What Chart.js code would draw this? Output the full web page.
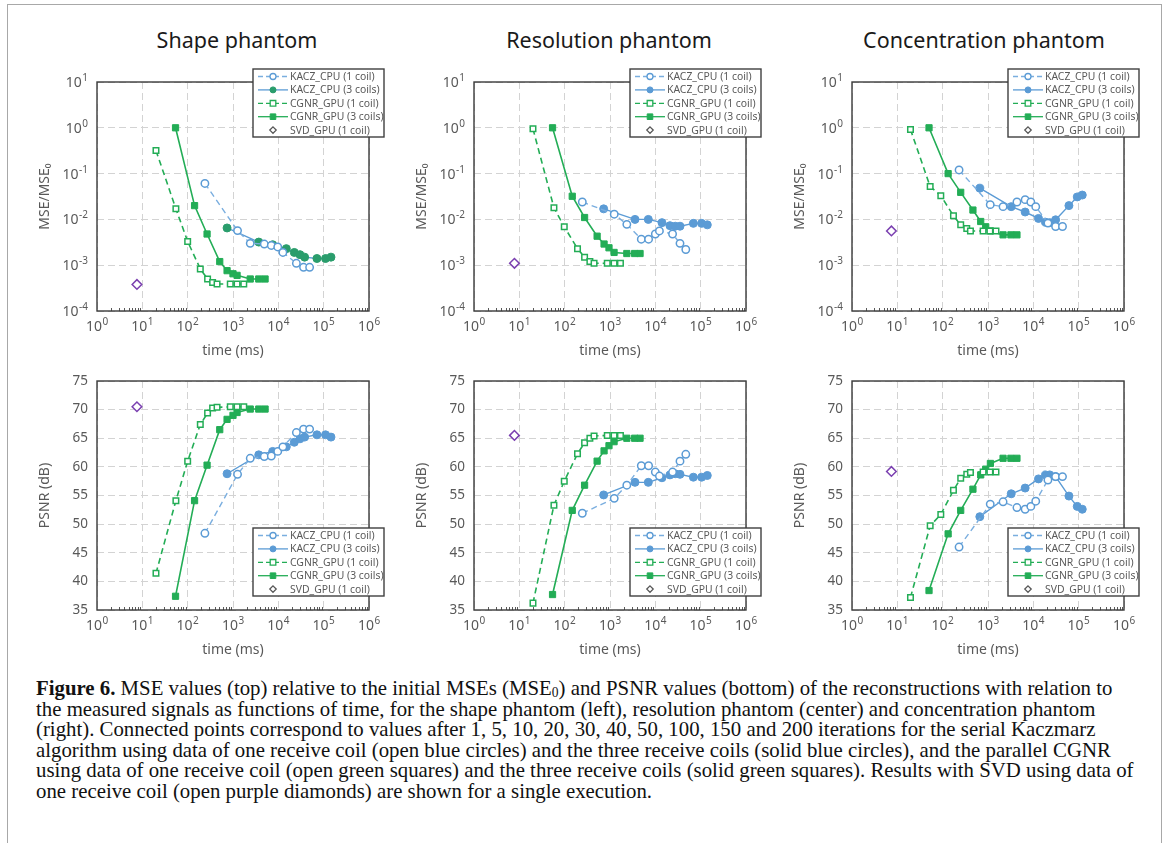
<!DOCTYPE html>
<html><head><meta charset="utf-8">
<script src="https://cdn.jsdelivr.net/npm/chart.js@4.4.0/dist/chart.umd.min.js"></script>
<style>
html,body{margin:0;padding:0;background:#fff;}
body{width:1167px;height:843px;position:relative;overflow:hidden;font-family:"Noto Sans",sans-serif;}
#frame{position:absolute;left:7px;top:4px;width:1155px;height:900px;border:1px solid #a8a8a8;box-sizing:border-box;}
canvas{position:absolute;}
.ptitle{position:absolute;top:24px;width:320px;text-align:center;font-size:21.5px;color:#1a1a1a;line-height:32px;white-space:nowrap;}
#caption{position:absolute;left:36px;top:678px;font-family:"Liberation Serif",serif;font-size:18px;line-height:20.6px;color:#111;white-space:nowrap;}
#caption div{white-space:nowrap;}
#caption sub{font-size:65%;vertical-align:-2px;line-height:0;}
</style></head>
<body>
<div id="frame"></div>
<div class="ptitle" id="t0" style="left:77px"></div>
<div class="ptitle" id="t1" style="left:449px"></div>
<div class="ptitle" id="t2" style="left:824px"></div>
<canvas id="c0" width="354" height="301" style="left:35px;top:62px"></canvas>
<canvas id="c1" width="354" height="301" style="left:412px;top:62px"></canvas>
<canvas id="c2" width="354" height="301" style="left:790px;top:62px"></canvas>
<canvas id="c3" width="354" height="301" style="left:35px;top:361px"></canvas>
<canvas id="c4" width="354" height="301" style="left:412px;top:361px"></canvas>
<canvas id="c5" width="354" height="301" style="left:790px;top:361px"></canvas>
<div id="caption">
<div id="cl1"><b>Figure 6.</b> MSE values (top) relative to the initial MSEs (MSE<sub>0</sub>) and PSNR values (bottom) of the reconstructions with relation to</div>
<div>the measured signals as functions of time, for the shape phantom (left), resolution phantom (center) and concentration phantom</div>
<div>(right). Connected points correspond to values after 1, 5, 10, 20, 30, 40, 50, 100, 150 and 200 iterations for the serial Kaczmarz</div>
<div>algorithm using data of one receive coil (open blue circles) and the three receive coils (solid blue circles), and the parallel CGNR</div>
<div>using data of one receive coil (open green squares) and the three receive coils (solid green squares). Results with SVD using data of</div>
<div>one receive coil (open purple diamonds) are shown for a single execution.</div>
</div>
<script>
// ---------------- DATA ----------------
const ITERATIONS = [1, 5, 10, 20, 30, 40, 50, 100, 150, 200];
const PHANTOMS = ['Shape phantom', 'Resolution phantom', 'Concentration phantom'];
const SERIES_LABELS = ['KACZ_CPU (1 coil)', 'KACZ_CPU (3 coils)', 'CGNR_GPU (1 coil)', 'CGNR_GPU (3 coils)', 'SVD_GPU (1 coil)'];
const X_TICKS = [1, 10, 100, 1000, 10000, 100000, 1000000];
const MSE_TICKS = [1e-4, 1e-3, 1e-2, 1e-1, 1, 10];
const PSNR_TICKS = [35, 40, 45, 50, 55, 60, 65, 70, 75];

// Shape phantom
const shapeTimeKacz1 = [240, 1260, 2400, 4900, 7000, 9700, 12600, 25000, 36000, 49000];
const shapeMseKacz1 = [0.061, 0.0057, 0.0030, 0.0029, 0.0027, 0.0025, 0.0019, 0.0011, 0.0009, 0.0009];
const shapePsnrKacz1 = [48.4, 58.7, 61.5, 61.8, 61.9, 62.7, 63.5, 66.0, 66.6, 66.6];
const shapeTimeKacz3 = [740, 3700, 7500, 15000, 22500, 30000, 38000, 71000, 110000, 145000];
const shapeMseKacz3 = [0.0065, 0.0032, 0.0028, 0.0023, 0.0019, 0.0017, 0.0015, 0.0014, 0.0014, 0.0015];
const shapePsnrKacz3 = [58.8, 62.1, 62.7, 63.5, 64.3, 64.9, 65.2, 65.6, 65.6, 65.2];
const shapeTimeCgnr1 = [20, 55, 100, 190, 275, 355, 445, 870, 1230, 1730];
const shapeMseCgnr1 = [0.32, 0.017, 0.0033, 0.00083, 0.0005, 0.00042, 0.00039, 0.00039, 0.00039, 0.00039];
const shapePsnrCgnr1 = [41.4, 54.1, 61.0, 67.4, 69.4, 70.3, 70.4, 70.5, 70.5, 70.5];
const shapeTimeCgnr3 = [54, 142, 268, 510, 740, 1000, 1230, 2400, 3700, 5100];
const shapeMseCgnr3 = [1.0, 0.02, 0.0048, 0.0012, 0.00076, 0.00065, 0.0006, 0.0005, 0.0005, 0.0005];
const shapePsnrCgnr3 = [37.4, 54.1, 60.3, 66.5, 68.3, 69.0, 69.5, 70.1, 70.1, 70.1];
const shapeTimeSvd = [7.6];
const shapeMseSvd = [0.00038];
const shapePsnrSvd = [70.5];

// Resolution phantom
const resTimeKacz1 = [245, 1240, 2350, 4900, 7100, 10000, 12300, 24000, 35000, 47000];
const resMseKacz1 = [0.024, 0.013, 0.0078, 0.0037, 0.0037, 0.0048, 0.0056, 0.0048, 0.0030, 0.0022];
const resPsnrKacz1 = [51.9, 54.5, 56.8, 60.2, 60.2, 59.1, 58.4, 59.1, 61.0, 62.2];
const resTimeKacz3 = [725, 3560, 7000, 14000, 21000, 27500, 35000, 69000, 105000, 140000];
const resMseKacz3 = [0.017, 0.010, 0.010, 0.0085, 0.0073, 0.0071, 0.0071, 0.0082, 0.0082, 0.0076];
const resPsnrKacz3 = [55.1, 57.3, 57.3, 58.1, 58.6, 58.8, 58.7, 58.2, 58.2, 58.5];
const resTimeCgnr1 = [20, 58, 98, 192, 275, 360, 445, 870, 1230, 1700];
const resMseCgnr1 = [0.95, 0.018, 0.0069, 0.0023, 0.0015, 0.0012, 0.0011, 0.0011, 0.0011, 0.0011];
const resPsnrCgnr1 = [36.2, 53.3, 57.5, 62.3, 64.2, 65.0, 65.4, 65.5, 65.5, 65.5];
const resTimeCgnr3 = [54, 147, 275, 520, 740, 950, 1230, 2350, 3500, 4600];
const resMseCgnr3 = [1.0, 0.032, 0.011, 0.0043, 0.0029, 0.0024, 0.0019, 0.0018, 0.0018, 0.0018];
const resPsnrCgnr3 = [37.7, 52.4, 56.8, 61.0, 62.8, 63.7, 64.4, 65.0, 65.0, 65.0];
const resTimeSvd = [7.8];
const resMseSvd = [0.0011];
const resPsnrSvd = [65.5];

// Concentration phantom
const concTimeKacz1 = [230, 1120, 2150, 4350, 6600, 8800, 11300, 21000, 31000, 44000];
const concMseKacz1 = [0.12, 0.021, 0.019, 0.024, 0.027, 0.024, 0.019, 0.0083, 0.0070, 0.0070];
const concPsnrKacz1 = [46.0, 53.5, 53.9, 52.9, 52.6, 53.1, 54.0, 57.7, 58.3, 58.3];
const concTimeKacz3 = [660, 3250, 6600, 13000, 18600, 23000, 31000, 61000, 93000, 120000];
const concMseKacz3 = [0.048, 0.019, 0.0145, 0.0105, 0.0087, 0.0085, 0.0098, 0.020, 0.031, 0.034];
const concPsnrKacz3 = [51.3, 55.3, 56.3, 57.9, 58.6, 58.6, 58.3, 54.9, 53.1, 52.6];
const concTimeCgnr1 = [19.5, 53, 91, 173, 250, 340, 410, 780, 1100, 1500];
const concMseCgnr1 = [0.92, 0.052, 0.033, 0.012, 0.0076, 0.0063, 0.0056, 0.0056, 0.0056, 0.0056];
const concPsnrCgnr1 = [37.2, 49.7, 51.7, 55.9, 58.0, 58.7, 59.0, 59.1, 59.1, 59.1];
const concTimeCgnr3 = [50, 132, 250, 465, 690, 890, 1130, 2150, 3200, 4350];
const concMseCgnr3 = [1.0, 0.10, 0.039, 0.016, 0.009, 0.0069, 0.0056, 0.0046, 0.0046, 0.0046];
const concPsnrCgnr3 = [38.4, 48.3, 52.4, 56.1, 58.6, 59.6, 60.6, 61.5, 61.5, 61.5];
const concTimeSvd = [7.4];
const concMseSvd = [0.0056];
const concPsnrSvd = [59.2];

// ---------------- STYLE ----------------
const BLUE = '#5b9bd5', BLUE_LINE = '#7aaedf', GREEN = '#23ad56', TEAL = '#2a9d6c', PURPLE = '#7a3fb0';
const TXT = '#595959';
function pts(xs, ys){ return xs.map((x,i)=>({x:x, y:ys[i]})); }

function makeDatasets(times, vals, kacz3Color){
  return [
    {label:SERIES_LABELS[0], data:pts(times[0],vals[0]), borderColor:BLUE_LINE, borderDash:[6,4], borderWidth:1.4,
     pointStyle:'circle', pointRadius:3.7, pointBorderWidth:1.5, pointBackgroundColor:'#fff', pointBorderColor:BLUE, _mk:'circle', _open:true, _mc:BLUE},
    {label:SERIES_LABELS[1], data:pts(times[1],vals[1]), borderColor:BLUE, borderWidth:1.4,
     pointStyle:'circle', pointRadius:4, pointBorderWidth:1, pointBackgroundColor:kacz3Color, pointBorderColor:kacz3Color, _mk:'circle', _open:false, _mc:kacz3Color},
    {label:SERIES_LABELS[2], data:pts(times[2],vals[2]), borderColor:GREEN, borderDash:[6,4], borderWidth:1.6,
     pointStyle:'rect', pointRadius:3.9, pointBorderWidth:1.5, pointBackgroundColor:'#fff', pointBorderColor:GREEN, _mk:'rect', _open:true, _mc:GREEN},
    {label:SERIES_LABELS[3], data:pts(times[3],vals[3]), borderColor:GREEN, borderWidth:1.6,
     pointStyle:'rect', pointRadius:4.4, pointBorderWidth:1, pointBackgroundColor:GREEN, pointBorderColor:GREEN, _mk:'rect', _open:false, _mc:GREEN},
    {label:SERIES_LABELS[4], data:pts(times[4],vals[4]), showLine:false, borderColor:PURPLE,
     pointStyle:'rectRot', pointRadius:4.8, pointBorderWidth:1.5, pointBackgroundColor:'#fff', pointBorderColor:PURPLE, _mk:'diamond', _open:true, _mc:'#555'}
  ];
}

function drawMarker(ctx, kind, x, y, r, open, color){
  ctx.save();
  ctx.beginPath();
  if(kind==='circle'){ ctx.arc(x,y,r,0,Math.PI*2); }
  else if(kind==='rect'){ ctx.rect(x-r,y-r,2*r,2*r); }
  else { ctx.moveTo(x,y-r); ctx.lineTo(x+r,y); ctx.lineTo(x,y+r); ctx.lineTo(x-r,y); ctx.closePath(); }
  ctx.fillStyle = open ? '#fff' : color;
  ctx.fill();
  ctx.lineWidth = open ? 1.3 : 1;
  ctx.strokeStyle = color;
  ctx.stroke();
  ctx.restore();
}

// power-of-ten label "10" with a raised exponent, placed by the scale itself
function drawPow10(ctx, v, anchorX, baseY, align){
  const e = String(Math.round(Math.log10(v)));
  ctx.font = '14px "Noto Sans"';
  const wb = ctx.measureText('10').width;
  ctx.font = '10px "Noto Sans"';
  const we = ctx.measureText(e).width;
  const w = wb + we + 0.5;
  const x0 = align === 'center' ? anchorX - w/2 : anchorX - w;
  ctx.fillStyle = TXT;
  ctx.textAlign = 'left';
  ctx.textBaseline = 'alphabetic';
  ctx.font = '14px "Noto Sans"';
  ctx.fillText('10', x0, baseY);
  ctx.font = '10px "Noto Sans"';
  ctx.fillText(e, x0 + wb + 0.5, baseY - 6);
}

const panelPlugin = {
  id:'panelDecor',
  afterDatasetsDraw(chart){
    const ctx = chart.ctx, ca = chart.chartArea, xs = chart.scales.x, ys = chart.scales.y;
    ctx.save();
    // minor ticks on the time axis
    ctx.strokeStyle = TXT; ctx.lineWidth = 1;
    for(let e=0;e<6;e++){
      for(let m=2;m<=9;m++){
        const px = Math.round(xs.getPixelForValue(m*Math.pow(10,e)))+0.5;
        ctx.beginPath(); ctx.moveTo(px, ca.bottom); ctx.lineTo(px, ca.bottom-3); ctx.stroke();
      }
    }
    // plot frame
    ctx.strokeStyle = '#3a3a3a'; ctx.lineWidth = 1.4;
    ctx.strokeRect(ca.left, ca.top, ca.right-ca.left, ca.bottom-ca.top);
    // log tick labels
    xs.ticks.forEach(t => drawPow10(ctx, t.value, xs.getPixelForValue(t.value), ca.bottom + 20, 'center'));
    if(ys.type === 'logarithmic'){
      ys.ticks.forEach(t => drawPow10(ctx, t.value, ca.left - 9, ys.getPixelForValue(t.value) + 5, 'right'));
    }
    ctx.restore();
  },
  afterDraw(chart){
    const ctx = chart.ctx, ca = chart.chartArea;
    const pos = chart.options.plugins.panelDecor.legendPos;
    const w = 131, h = 68;
    const lx = ca.right - 116;
    const ly = pos === 'top' ? ca.top - 13 : ca.bottom - 82;
    ctx.save();
    ctx.fillStyle = '#fff';
    ctx.fillRect(lx, ly, w, h);
    ctx.strokeStyle = '#3f3f3f'; ctx.lineWidth = 1.4;
    ctx.strokeRect(lx, ly, w, h);
    ctx.font = '10.4px "Noto Sans"';
    ctx.textBaseline = 'middle';
    chart.data.datasets.forEach((ds, i) => {
      const y = ly + 7.5 + i*13.4;
      if(ds.showLine !== false){
        ctx.save();
        ctx.strokeStyle = ds.borderColor; ctx.lineWidth = 1.3;
        ctx.setLineDash(ds.borderDash ? [5,3] : []);
        ctx.beginPath(); ctx.moveTo(lx+5, y); ctx.lineTo(lx+35, y); ctx.stroke();
        ctx.restore();
      }
      drawMarker(ctx, ds._mk, lx+20, y, ds._mk==='diamond'?3.2:(ds._mk==='rect'?2.8:3), ds._open, ds._mc);
      ctx.fillStyle = TXT;
      ctx.fillText(ds.label, lx+37, y+0.5);
    });
    ctx.restore();
  }
};

function xScale(){
  return {
    type:'logarithmic', min:1, max:1e6,
    afterBuildTicks: s => { s.ticks = X_TICKS.map(v=>({value:v})); },
    afterFit: s => { s.height = 52; },
    ticks:{ display:false, autoSkip:false },
    grid:{ color:'#d3d3d3', lineWidth:1, drawTicks:false },
    border:{ display:false, dash:[7,4] },
    title:{ display:true, text:'time (ms)', color:TXT, font:{family:'Noto Sans', size:14}, padding:{top:0, bottom:4} }
  };
}
function yScale(kind){
  const base = {
    afterFit: s => { s.width = 62; },
    grid:{ color:'#d3d3d3', lineWidth:1, drawTicks:false },
    border:{ display:false, dash:[7,4] },
    title:{ display:true, color:TXT, font:{family:'Noto Sans', size:14}, padding:{top:2, bottom:0} }
  };
  if(kind==='mse'){
    return Object.assign(base, {
      type:'logarithmic', min:1e-4, max:10,
      afterBuildTicks: s => { s.ticks = MSE_TICKS.map(v=>({value:v})); },
      ticks:{ display:false, autoSkip:false },
      title:Object.assign(base.title, {text:'MSE/MSE\u2080'})
    });
  }
  return Object.assign(base, {
    type:'linear', min:35, max:75,
    afterBuildTicks: s => { s.ticks = PSNR_TICKS.map(v=>({value:v})); },
    ticks:{ color:TXT, font:{family:'Noto Sans', size:13.5}, padding:9, autoSkip:false },
    title:Object.assign(base.title, {text:'PSNR (dB)'})
  });
}

function makePanel(id, times, vals, kind, kacz3Color){
  return new Chart(document.getElementById(id), {
    type:'line',
    data:{ datasets: makeDatasets(times, vals, kacz3Color) },
    options:{
      responsive:false, animation:false, devicePixelRatio:1,
      layout:{ padding:{ top:20, right:20, left:0, bottom:0 } },
      elements:{ line:{ tension:0 } },
      scales:{ x:xScale(), y:yScale(kind) },
      plugins:{ legend:{display:false}, tooltip:{enabled:false}, panelDecor:{ legendPos: kind==='mse' ? 'top' : 'bottom' } }
    },
    plugins:[panelPlugin]
  });
}

PHANTOMS.forEach((t,i)=>{ document.getElementById('t'+i).textContent = t; });

function draw(){
  const shapeT = [shapeTimeKacz1, shapeTimeKacz3, shapeTimeCgnr1, shapeTimeCgnr3, shapeTimeSvd];
  const resT = [resTimeKacz1, resTimeKacz3, resTimeCgnr1, resTimeCgnr3, resTimeSvd];
  const concT = [concTimeKacz1, concTimeKacz3, concTimeCgnr1, concTimeCgnr3, concTimeSvd];
  makePanel('c0', shapeT, [shapeMseKacz1, shapeMseKacz3, shapeMseCgnr1, shapeMseCgnr3, shapeMseSvd], 'mse', TEAL);
  makePanel('c1', resT, [resMseKacz1, resMseKacz3, resMseCgnr1, resMseCgnr3, resMseSvd], 'mse', BLUE);
  makePanel('c2', concT, [concMseKacz1, concMseKacz3, concMseCgnr1, concMseCgnr3, concMseSvd], 'mse', BLUE);
  makePanel('c3', shapeT, [shapePsnrKacz1, shapePsnrKacz3, shapePsnrCgnr1, shapePsnrCgnr3, shapePsnrSvd], 'psnr', BLUE);
  makePanel('c4', resT, [resPsnrKacz1, resPsnrKacz3, resPsnrCgnr1, resPsnrCgnr3, resPsnrSvd], 'psnr', BLUE);
  makePanel('c5', concT, [concPsnrKacz1, concPsnrKacz3, concPsnrCgnr1, concPsnrCgnr3, concPsnrSvd], 'psnr', BLUE);
  // fit caption first line to the reference width
  const cap = document.getElementById('caption');
  const l1 = document.getElementById('cl1');
  const r = document.createRange(); r.selectNodeContents(l1);
  const w = r.getBoundingClientRect().width;
  if(w > 0){ cap.style.fontSize = (18 * 1077 / w).toFixed(2) + 'px'; }
}
if(document.fonts && document.fonts.ready){ document.fonts.ready.then(draw); } else { draw(); }
</script>
</body></html>
